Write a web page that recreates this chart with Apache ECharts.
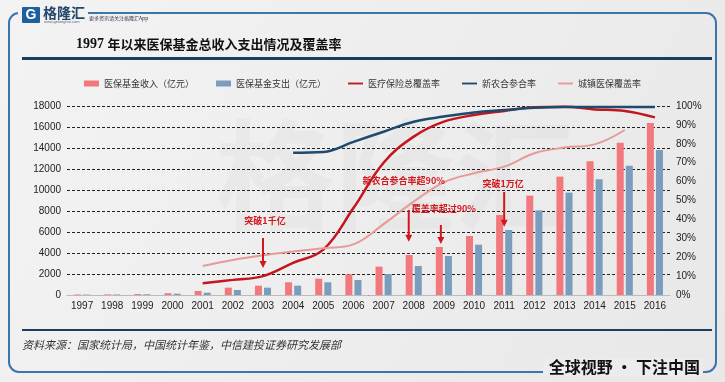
<!DOCTYPE html>
<html><head><meta charset="utf-8">
<script src="https://cdn.jsdelivr.net/npm/echarts@6/dist/echarts.min.js"></script>
<style>html,body{margin:0;padding:0;background:#eee}#c{width:725px;height:382px}</style>
</head><body><div id="c"></div>
<script>
const years = ['1997','1998','1999','2000','2001','2002','2003','2004','2005','2006','2007','2008','2009','2010','2011','2012','2013','2014','2015','2016'];
const income = [52, 61, 90, 170, 384, 700, 890, 1210, 1550, 1970, 2700, 3810, 4570, 5620, 7620, 9460, 11270, 12730, 14510, 16380];
const expense = [41, 53, 69, 124, 220, 476, 700, 890, 1210, 1430, 2000, 2760, 3714, 4790, 6190, 8060, 9750, 11020, 12320, 13810];
const totalCover = ['-','-','-','-', 6.2, 8.0, 10.0, 17.0, 24.0, 46.0, 70.0, 83.8, 91.7, 95.2, 97.4, 99.3, 99.6, 98.2, 97.4, 94.0];
const ncmsRate = ['-','-','-','-','-','-','-', 75.3, 75.7, 81.0, 86.4, 91.7, 94.4, 96.6, 97.9, 99.1, 99.5, 99.5, 99.5, 99.5];
const urbanCover = ['-','-','-','-', 15.3, 18.5, 21.0, 23.0, 24.7, 26.8, 37.5, 49.4, 59.6, 64.4, 67.9, 75.0, 78.0, 79.7, 87.3, '-'];
const leftTicks = {min: 0, max: 18000, interval: 2000};
const rightTicks = {min: 0, max: 100, interval: 10};
const names = ['医保基金收入（亿元）','医保基金支出（亿元）','医疗保险总覆盖率','新农合参合率','城镇医保覆盖率'];
const notes = [
  {text:'突破1千亿', cat:'2003', v:7050, dx:2},
  {text:'新农合参合率超90%', cat:'2008', v:10886, dx:-10},
  {text:'覆盖率超过90%', cat:'2009', v:8190, dx:0},
  {text:'突破1万亿', cat:'2011', v:10570, dx:-1}
];
const arrows = [
  {cat:'2003', from:5430, to:2570, dx:0},
  {cat:'2008', from:8095, to:5076, dx:-5},
  {cat:'2009', from:6667, to:4857, dx:-3},
  {cat:'2011', from:9810, to:6505, dx:0}
];

const chart = echarts.init(document.getElementById('c'));
const axisFont = {fontSize:10, color:'#222', fontFamily:'Liberation Sans, Arial'};
const lineIcon = 'path://M0,0H24V3H0Z';
const option = {
  animation:false,
  backgroundColor:{type:'linear',x:0,y:0,x2:1,y2:1,colorStops:[{offset:0,color:'#f3f3f3'},{offset:1,color:'#e8e8e8'}]},
  legend:{
    top:74, left:'center', itemGap:22, itemWidth:15, itemHeight:6,
    textStyle:{fontSize:9, color:'#333', fontFamily:'Noto Sans CJK SC'},
    data:[
      {name:names[0], icon:'rect'},
      {name:names[1], icon:'rect'},
      {name:names[2], icon:lineIcon},
      {name:names[3], icon:lineIcon},
      {name:names[4], icon:lineIcon}
    ]
  },
  grid:{left:67, right:55, top:106, bottom:87},
  xAxis:{type:'category', data:years,
    axisLine:{lineStyle:{color:'#bbb'}}, axisTick:{show:false},
    axisLabel:Object.assign({margin:6}, axisFont)},
  yAxis:[
    Object.assign({type:'value', axisLine:{show:false}, axisTick:{show:false},
      axisLabel:Object.assign({margin:6, formatter:v => String(v)}, axisFont),
      splitLine:{lineStyle:{type:[3,2], color:'#222', width:1}}}, leftTicks),
    Object.assign({type:'value', axisLine:{show:false}, axisTick:{show:false},
      axisLabel:Object.assign({margin:6, formatter:'{value}%'}, axisFont),
      splitLine:{show:false}}, rightTicks)
  ],
  series:[
    {name:names[0], type:'bar', data:income, barWidth:7, barGap:'30%', itemStyle:{color:'#f2787d'}},
    {name:names[1], type:'bar', data:expense, barWidth:7, barGap:'30%', itemStyle:{color:'#7b9dbd'}},
    {name:names[2], type:'line', yAxisIndex:1, data:totalCover, smooth:0.4, symbol:'none', lineStyle:{color:'#c3161e', width:2.5}, itemStyle:{color:'#c3161e'}},
    {name:names[3], type:'line', yAxisIndex:1, data:ncmsRate, smooth:0.4, symbol:'none', lineStyle:{color:'#1d4a6e', width:2.5}, itemStyle:{color:'#1d4a6e'}},
    {name:names[4], type:'line', yAxisIndex:1, data:urbanCover, smooth:0.4, symbol:'none', lineStyle:{color:'#e79a96', width:2}, itemStyle:{color:'#e79a96'}}
  ]
};
chart.setOption(option);

function px(cat, v){ return chart.convertToPixel({xAxisIndex:0, yAxisIndex:0}, [cat, v]); }
const red = '#d2161c';
const g = [];
// watermark
g.push({type:'text', z:-1, style:{text:'格隆汇', x:395, y:175, align:'center', verticalAlign:'middle', fill:'rgba(120,120,120,0.045)', font:'bold 120px "Noto Sans CJK SC"'}});
// frame
g.push({type:'rect', shape:{x:9, y:13, width:707, height:359, r:10}, style:{fill:'none', stroke:'#3c74ad', lineWidth:2}, z:1});
g.push({type:'rect', shape:{x:18, y:5, width:70, height:14}, style:{fill:'#f2f2f2'}, z:2});
// logo
g.push({type:'rect', shape:{x:22, y:7, width:18, height:16, r:1}, style:{fill:'#1f5f9e'}, z:3});
g.push({type:'text', style:{text:'G', x:31, y:15.5, align:'center', verticalAlign:'middle', fill:'#fff', font:'bold 14px "Liberation Sans"'}, z:4});
g.push({type:'text', style:{text:'格隆汇', x:43, y:13, verticalAlign:'middle', fill:'#23476b', font:'bold 14px "Noto Sans CJK SC"'}, z:3});
g.push({type:'text', style:{text:'www.gelonghui.com', x:44, y:22, verticalAlign:'middle', fill:'#667', font:'4px "Liberation Sans"'}, z:3});
g.push({type:'text', style:{text:'更多资讯请关注格隆汇App', x:89, y:18, verticalAlign:'middle', fill:'#334', font:'5px "Noto Sans CJK SC"'}, z:3});
// title
g.push({type:'text', style:{text:'{a|1997 }{b|年以来医保基金总收入支出情况及覆盖率}', x:76, y:44, verticalAlign:'middle',
  rich:{a:{font:'bold 14px "Liberation Serif"', fill:'#111'}, b:{font:'bold 13px "Noto Sans CJK SC"', fill:'#111'}}}, z:3});
g.push({type:'rect', shape:{x:22, y:57, width:690, height:3}, style:{fill:'#1d3d5e'}, z:3});
g.push({type:'rect', shape:{x:22, y:329, width:690, height:2}, style:{fill:'#1d3d5e'}, z:3});
g.push({type:'text', style:{text:'资料来源：国家统计局，中国统计年鉴，中信建投证券研究发展部', x:22, y:345, verticalAlign:'middle', fill:'#333', font:'italic 11px "Noto Sans CJK SC"'}, z:3});
g.push({type:'rect', shape:{x:543, y:358, width:160, height:18}, style:{fill:'#ececec'}, z:2});
g.push({type:'text', style:{text:'全球视野 · 下注中国', x:700, y:367, align:'right', verticalAlign:'middle', fill:'#111', font:'bold 16px "Noto Sans CJK SC"'}, z:3});
// annotations
notes.forEach(n => {
  const p = px(n.cat, n.v);
  g.push({type:'text', style:{text:n.text, x:p[0]+n.dx, y:p[1], align:'center', verticalAlign:'middle', fill:red, font:'bold 9px "Noto Sans CJK SC"'}, z:10});
});
arrows.forEach(a => {
  const p1 = px(a.cat, a.from), p2 = px(a.cat, a.to);
  const x = p1[0] + a.dx;
  g.push({type:'line', shape:{x1:x, y1:p1[1], x2:x, y2:p2[1]-6}, style:{stroke:red, lineWidth:2}, z:10});
  g.push({type:'polygon', shape:{points:[[x-3.5, p2[1]-7],[x+3.5, p2[1]-7],[x, p2[1]]]}, style:{fill:red}, z:10});
});
chart.setOption({graphic:g});
</script></body></html>
